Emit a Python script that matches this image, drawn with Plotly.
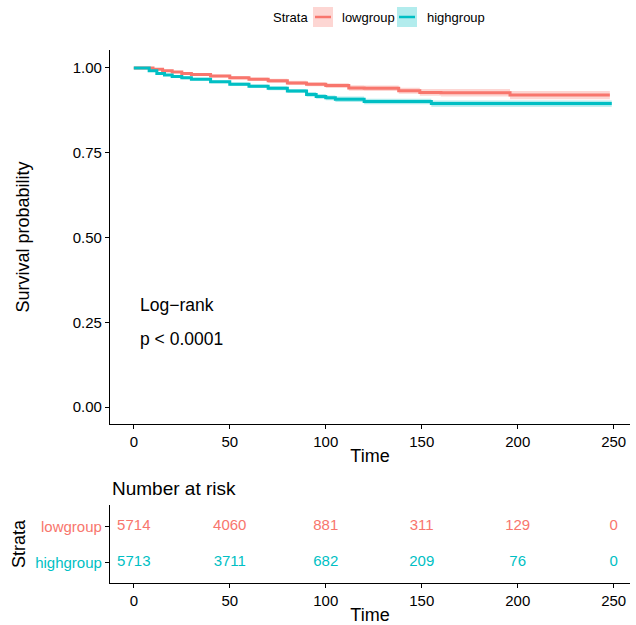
import plotly.graph_objects as go

# ---- data ----
low_t = [0, 5, 10, 15, 20, 25, 30, 40, 50, 60, 70, 80, 90, 100, 112, 120, 138, 149, 160, 180, 196, 248]
low_s = [1.0, 1.0, 0.996, 0.992, 0.988, 0.984, 0.981, 0.976, 0.971, 0.967, 0.962, 0.956, 0.952, 0.948, 0.941, 0.940, 0.933, 0.928, 0.927, 0.927, 0.920, 0.920]
low_up = [1.0, 1.0, 0.998, 0.995, 0.991, 0.988, 0.985, 0.980, 0.976, 0.972, 0.968, 0.962, 0.958, 0.955, 0.949, 0.948, 0.942, 0.938, 0.938, 0.938, 0.932, 0.932]
low_lo = [1.0, 1.0, 0.994, 0.989, 0.985, 0.980, 0.977, 0.972, 0.966, 0.962, 0.956, 0.950, 0.946, 0.941, 0.933, 0.932, 0.924, 0.918, 0.916, 0.916, 0.908, 0.908]

high_t = [0, 5, 8, 12, 16, 20, 25, 30, 40, 50, 60, 70, 80, 90, 95, 100, 105, 120, 155, 249]
high_s = [1.0, 1.0, 0.992, 0.984, 0.979, 0.975, 0.971, 0.967, 0.959, 0.952, 0.946, 0.940, 0.932, 0.922, 0.916, 0.912, 0.908, 0.901, 0.895, 0.895]
high_up = [1.0, 1.0, 0.994, 0.987, 0.982, 0.979, 0.975, 0.971, 0.963, 0.957, 0.951, 0.946, 0.938, 0.929, 0.923, 0.919, 0.916, 0.909, 0.904, 0.904]
high_lo = [1.0, 1.0, 0.990, 0.981, 0.976, 0.971, 0.967, 0.963, 0.955, 0.947, 0.941, 0.934, 0.926, 0.915, 0.909, 0.905, 0.900, 0.893, 0.886, 0.886]

strata = ["lowgroup", "highgroup"]
colors = {"lowgroup": "#F8766D", "highgroup": "#00BFC4"}
fills = {"lowgroup": "rgba(248,118,109,0.3)", "highgroup": "rgba(0,191,196,0.3)"}

risk_times = [0, 50, 100, 150, 200, 250]
risk_low = [5714, 4060, 881, 311, 129, 0]
risk_high = [5713, 3711, 682, 209, 76, 0]

x_ticks = [0, 50, 100, 150, 200, 250]
y_ticks = [0.0, 0.25, 0.5, 0.75, 1.0]
y_ticklabels = ["0.00", "0.25", "0.50", "0.75", "1.00"]

FONT = "Liberation Sans, Arial, sans-serif"
W, H = 636.0, 625.0
ML, MR = 110, 6
PW = W - ML - MR


def px(x):
    return (x - ML) / PW


def py(y):
    return 1 - y / H


fig = go.Figure()

curves = {
    "lowgroup": (low_t, low_s, low_up, low_lo),
    "highgroup": (high_t, high_s, high_up, high_lo),
}
for name in strata:
    t, s, up, lo = curves[name]
    fig.add_trace(go.Scatter(x=t, y=up, mode="lines", line=dict(width=0, shape="hv"),
                             showlegend=False, hoverinfo="skip", xaxis="x", yaxis="y"))
    fig.add_trace(go.Scatter(x=t, y=lo, mode="lines", line=dict(width=0, shape="hv"),
                             fill="tonexty", fillcolor=fills[name],
                             showlegend=False, hoverinfo="skip", xaxis="x", yaxis="y"))
for name in strata:
    t, s, up, lo = curves[name]
    fig.add_trace(go.Scatter(x=t, y=s, mode="lines", name=name,
                             line=dict(color=colors[name], width=3, shape="hv"),
                             showlegend=False, xaxis="x", yaxis="y"))

# risk table
fig.add_trace(go.Scatter(x=risk_times, y=[1] * len(risk_times), mode="text",
                         text=[str(v) for v in risk_low],
                         textfont=dict(color=colors["lowgroup"], size=15, family=FONT),
                         showlegend=False, xaxis="x2", yaxis="y2"))
fig.add_trace(go.Scatter(x=risk_times, y=[0] * len(risk_times), mode="text",
                         text=[str(v) for v in risk_high],
                         textfont=dict(color=colors["highgroup"], size=15, family=FONT),
                         showlegend=False, xaxis="x2", yaxis="y2"))

axis_common = dict(showline=True, linecolor="black", linewidth=1.2, ticks="outside",
                   ticklen=4, tickcolor="black", showgrid=False, zeroline=False,
                   automargin=False,
                   tickfont=dict(size=15, color="black", family=FONT))

# manual legend (box + line + label), ggplot style
legend_shapes = []
legend_annots = [dict(text="Strata", x=px(271), y=py(17), xref="paper", yref="paper",
                      xanchor="left", yanchor="middle", showarrow=False,
                      font=dict(size=13))]
for name, bx, tx in [("lowgroup", 313, 340), ("highgroup", 397, 425)]:
    legend_shapes.append(dict(type="rect", xref="paper", yref="paper",
                              x0=px(bx), x1=px(bx + 20), y0=py(27), y1=py(7),
                              fillcolor=fills[name], line=dict(width=0)))
    legend_shapes.append(dict(type="line", xref="paper", yref="paper",
                              x0=px(bx + 2), x1=px(bx + 18), y0=py(17), y1=py(17),
                              line=dict(color=colors[name], width=2.5)))
    legend_annots.append(dict(text=name, x=px(tx), y=py(17), xref="paper", yref="paper",
                              xanchor="left", yanchor="middle", showarrow=False,
                              font=dict(size=13)))

fig.update_layout(
    width=int(W), height=int(H),
    margin=dict(l=ML, r=MR, t=0, b=0),
    plot_bgcolor="white", paper_bgcolor="white",
    font=dict(family=FONT, color="black"),
    showlegend=False,
    xaxis=dict(**axis_common, domain=[0, 1], range=[-12.4, 258.5], tickvals=x_ticks,
               title=dict(text="Time", font=dict(size=18), standoff=0), anchor="y"),
    yaxis=dict(**axis_common, domain=[py(424), py(50)], range=[-0.05, 1.053],
               tickvals=y_ticks, ticktext=y_ticklabels,
               title=dict(text="Survival probability", font=dict(size=18), standoff=38),
               anchor="x"),
    xaxis2=dict(**axis_common, domain=[0, 1], range=[-12.4, 258.5], tickvals=x_ticks,
                title=dict(text="Time", font=dict(size=18), standoff=0), anchor="y2"),
    yaxis2=dict(**axis_common, domain=[py(583), py(505)], range=[-0.58, 1.6],
                tickvals=[1, 0],
                ticktext=["<span style='color:#F8766D'>lowgroup</span>",
                          "<span style='color:#00BFC4'>highgroup</span>"],
                title=dict(text="Strata", font=dict(size=18), standoff=4), anchor="x2"),
    shapes=legend_shapes,
    annotations=legend_annots + [
        dict(text="Log\u2212rank", x=2, y=0.30, xref="x", yref="y", showarrow=False,
             xanchor="left", font=dict(size=17.5)),
        dict(text="p < 0.0001", x=2, y=0.20, xref="x", yref="y", showarrow=False,
             xanchor="left", font=dict(size=17.5)),
        dict(text="Number at risk", x=0, y=py(488), xref="paper", yref="paper",
             xanchor="left", yanchor="middle", showarrow=False,
             font=dict(size=19)),
    ],
)

fig.write_html("out.html", config={"displayModeBar": False},
               post_script="document.body.style.margin='0px';")
